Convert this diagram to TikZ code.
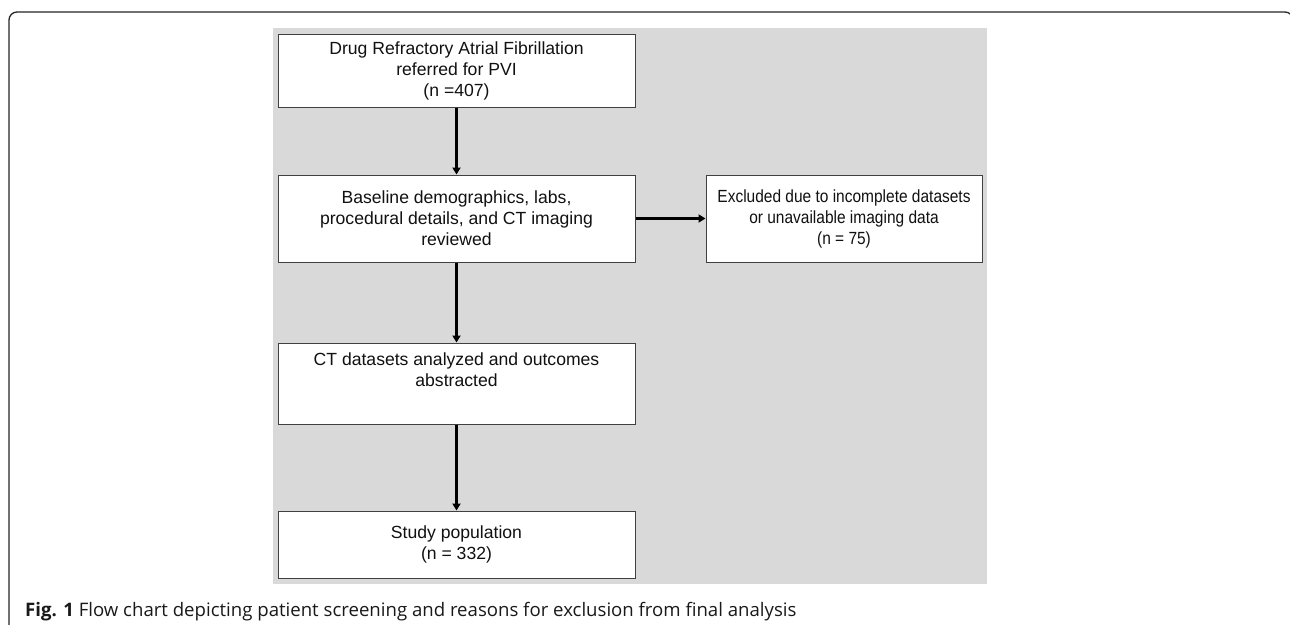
\documentclass[tikz,border=0pt]{standalone}
\usepackage{fontspec}
\setmainfont{Liberation Sans}
\newfontfamily\capfont{Open Sans}
\newfontfamily\condfont[FakeStretch=0.88]{Liberation Sans}
\usetikzlibrary{arrows.meta}
\definecolor{bggray}{HTML}{D9D9D9}
\definecolor{boxline}{HTML}{404040}
\definecolor{txt}{HTML}{111111}
\tikzset{
  flowbox/.style={draw=boxline, line width=1pt, fill=white, inner sep=0pt,
    align=center, text=txt, font=\fontsize{17.6}{21}\selectfont, minimum width=357pt},
  flowarrow/.style={line width=2.5pt, draw=black, -{Triangle[length=7pt,width=8pt]}},
  frameline/.style={draw=black!85, line width=1.3pt, rounded corners=8pt}
}
\begin{document}
\begin{tikzpicture}[x=1pt,y=-1pt]
\useasboundingbox (0,0) rectangle (1290,624);
\clip (0,0) rectangle (1290,624);
\fill[white] (0,0) rectangle (1290,624);
\draw[frameline] (9,650) -- (9,12) -- (1293,12) -- (1293,650);
\fill[bggray] (273,28) rectangle (987,584);
\node[flowbox, minimum height=73pt] (a) at (456.5,70.5)
  {Drug Refractory Atrial Fibrillation\\referred for PVI\\(n =407)};
\node[flowbox, minimum height=87pt] (b) at (456.5,218.5)
  {Baseline demographics, labs,\\procedural details, and CT imaging\\reviewed};
\node[flowbox, minimum width=276pt, minimum height=87pt, font=\condfont\fontsize{17.6}{21}\selectfont] (c) at (844,218.5)
  {Excluded due to incomplete datasets\\or unavailable imaging data\\(n = 75)};
\node[flowbox, minimum height=81pt] (d) at (456.5,383.5)
  {CT datasets analyzed and outcomes\\abstracted\\\strut};
\node[flowbox, minimum height=67pt] (e) at (456.5,544.5)
  {Study population\\(n = 332)};
\draw[flowarrow] (a) -- (b);
\draw[flowarrow] (b) -- (c);
\draw[flowarrow] (b) -- (d);
\draw[flowarrow] (d) -- (e);
\node[anchor=base west, inner sep=0pt, text=black!90, font=\capfont\fontsize{18.6}{22}\selectfont] (cap) at (25,616)
  {\textbf{Fig. 1} Flow chart depicting patient screening and reasons for exclusion from final analysis};
\end{tikzpicture}
\end{document}
